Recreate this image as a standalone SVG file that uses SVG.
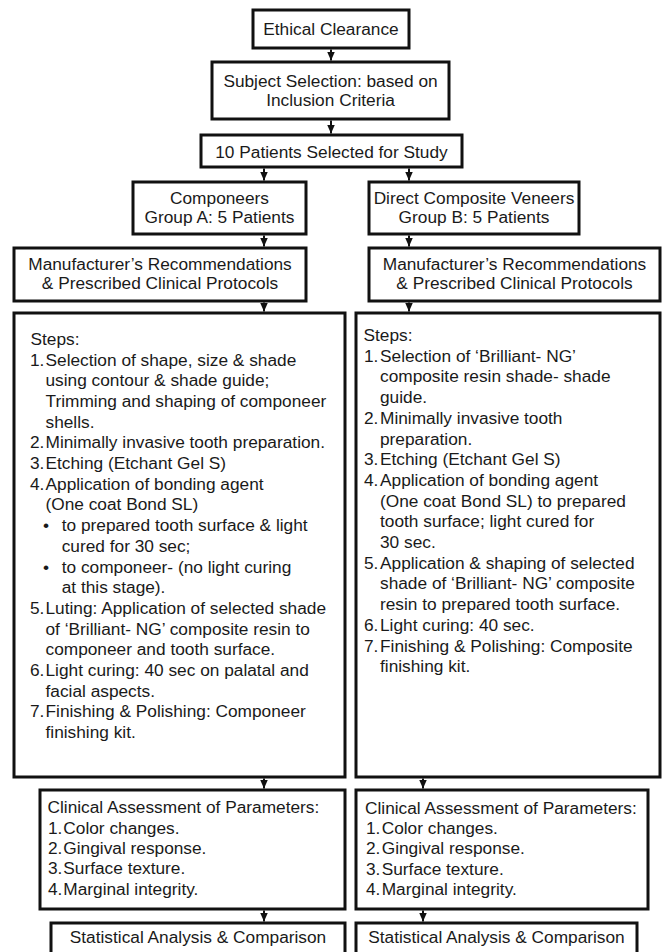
<svg xmlns="http://www.w3.org/2000/svg" width="662" height="952" viewBox="0 0 662 952">
<style>
  .box { fill: #fff; stroke: #111; stroke-width: 3; }
  .t { font-family: "Liberation Sans", Arial, sans-serif; font-size: 17.3px; fill: #1a1a1a; }
  .c { text-anchor: middle; }
  .conn { stroke: #111; stroke-width: 2; fill: none; marker-end: url(#ah); }
</style>
<defs>
  <marker id="ah" viewBox="0 0 9 8" refX="9" refY="4" markerWidth="9" markerHeight="8" markerUnits="userSpaceOnUse" orient="auto">
    <path d="M0,0 L9,4 L0,8 z" fill="#111"/>
  </marker>
</defs>
<rect width="662" height="952" fill="#fff"/>

<g id="connectors">
  <line class="conn" x1="331" y1="49.5" x2="331" y2="60.5"/>
  <line class="conn" x1="331" y1="120.5" x2="331" y2="133.5"/>
  <line class="conn" x1="264" y1="168.5" x2="264" y2="180.5"/>
  <line class="conn" x1="409" y1="168.5" x2="409" y2="180.5"/>
  <line class="conn" x1="264" y1="235.5" x2="264" y2="246.5"/>
  <line class="conn" x1="409" y1="235.5" x2="409" y2="246.5"/>
  <line class="conn" x1="264" y1="302.5" x2="264" y2="311.5"/>
  <line class="conn" x1="409" y1="302.5" x2="409" y2="311.5"/>
  <line class="conn" x1="264" y1="778.5" x2="264" y2="788.5"/>
  <line class="conn" x1="423" y1="778.5" x2="423" y2="788.5"/>
  <line class="conn" x1="264" y1="910.5" x2="264" y2="921.5"/>
  <line class="conn" x1="423" y1="910.5" x2="423" y2="921.5"/>
</g>

<g id="ethical">
  <rect class="box" x="253" y="10" width="156" height="38"/>
  <text class="t c" x="331" y="35">Ethical Clearance</text>
</g>

<g id="subject">
  <rect class="box" x="212" y="62" width="237" height="57"/>
  <text class="t c" x="330.5" y="87.3">Subject Selection: based on</text>
  <text class="t c" x="330.5" y="106">Inclusion Criteria</text>
</g>

<g id="patients">
  <rect class="box" x="201" y="135" width="261" height="32"/>
  <text class="t c" x="331.5" y="157.5">10 Patients Selected for Study</text>
</g>

<g id="groupA">
  <rect class="box" x="133" y="182" width="173" height="52"/>
  <text class="t c" x="219.5" y="203.5">Componeers</text>
  <text class="t c" x="219.5" y="223.3">Group A: 5 Patients</text>
</g>

<g id="groupB">
  <rect class="box" x="369" y="182" width="210" height="52"/>
  <text class="t c" x="474" y="203.5">Direct Composite Veneers</text>
  <text class="t c" x="474" y="223.3">Group B: 5 Patients</text>
</g>

<g id="manufA">
  <rect class="box" x="14" y="248" width="292" height="53"/>
  <text class="t c" x="160" y="270">Manufacturer’s Recommendations</text>
  <text class="t c" x="160" y="289.3">&amp; Prescribed Clinical Protocols</text>
</g>

<g id="manufB">
  <rect class="box" x="369" y="248" width="291" height="53"/>
  <text class="t c" x="514.5" y="270">Manufacturer’s Recommendations</text>
  <text class="t c" x="514.5" y="289.3">&amp; Prescribed Clinical Protocols</text>
</g>

<g id="stepsA">
  <rect class="box" x="14" y="313" width="331" height="464"/>
  <text class="t" x="30.5" y="344.8">Steps:</text>
  <text class="t" x="30" y="365.5">1.</text><text class="t" x="45.5" y="365.5">Selection of shape, size &amp; shade</text>
  <text class="t" x="45.5" y="386.2">using contour &amp; shade guide;</text>
  <text class="t" x="45.5" y="406.9">Trimming and shaping of componeer</text>
  <text class="t" x="45.5" y="427.6">shells.</text>
  <text class="t" x="30" y="448.3">2.</text><text class="t" x="45.5" y="448.3">Minimally invasive tooth preparation.</text>
  <text class="t" x="30" y="469">3.</text><text class="t" x="45.5" y="469">Etching (Etchant Gel S)</text>
  <text class="t" x="30" y="489.7">4.</text><text class="t" x="45.5" y="489.7">Application of bonding agent</text>
  <text class="t" x="45.5" y="510.4">(One coat Bond SL)</text>
  <text class="t" x="43" y="531.1">•</text><text class="t" x="61.7" y="531.1">to prepared tooth surface &amp; light</text>
  <text class="t" x="61.7" y="551.8">cured for 30 sec;</text>
  <text class="t" x="43" y="572.5">•</text><text class="t" x="61.7" y="572.5">to componeer- (no light curing</text>
  <text class="t" x="61.7" y="593.2">at this stage).</text>
  <text class="t" x="30" y="613.9">5.</text><text class="t" x="45.5" y="613.9">Luting: Application of selected shade</text>
  <text class="t" x="45.5" y="634.6">of ‘Brilliant- NG’ composite resin to</text>
  <text class="t" x="45.5" y="655.3">componeer and tooth surface.</text>
  <text class="t" x="30" y="676">6.</text><text class="t" x="45.5" y="676">Light curing: 40 sec on palatal and</text>
  <text class="t" x="45.5" y="696.7">facial aspects.</text>
  <text class="t" x="30" y="717.4">7.</text><text class="t" x="45.5" y="717.4">Finishing &amp; Polishing: Componeer</text>
  <text class="t" x="45.5" y="738.1">finishing kit.</text>
</g>

<g id="stepsB">
  <rect class="box" x="356" y="313" width="304" height="464"/>
  <text class="t" x="363.5" y="341">Steps:</text>
  <text class="t" x="364" y="361.7">1.</text><text class="t" x="380" y="361.7">Selection of ‘Brilliant- NG’</text>
  <text class="t" x="380" y="382.4">composite resin shade- shade</text>
  <text class="t" x="380" y="403.1">guide.</text>
  <text class="t" x="364" y="423.8">2.</text><text class="t" x="380" y="423.8">Minimally invasive tooth</text>
  <text class="t" x="380" y="444.5">preparation.</text>
  <text class="t" x="364" y="465.2">3.</text><text class="t" x="380" y="465.2">Etching (Etchant Gel S)</text>
  <text class="t" x="364" y="485.9">4.</text><text class="t" x="380" y="485.9">Application of bonding agent</text>
  <text class="t" x="380" y="506.6">(One coat Bond SL) to prepared</text>
  <text class="t" x="380" y="527.3">tooth surface; light cured for</text>
  <text class="t" x="380" y="548">30 sec.</text>
  <text class="t" x="364" y="568.7">5.</text><text class="t" x="380" y="568.7">Application &amp; shaping of selected</text>
  <text class="t" x="380" y="589.4">shade of ‘Brilliant- NG’ composite</text>
  <text class="t" x="380" y="610.1">resin to prepared tooth surface.</text>
  <text class="t" x="364" y="630.8">6.</text><text class="t" x="380" y="630.8">Light curing: 40 sec.</text>
  <text class="t" x="364" y="651.5">7.</text><text class="t" x="380" y="651.5">Finishing &amp; Polishing: Composite</text>
  <text class="t" x="380" y="672.2">finishing kit.</text>
</g>

<g id="clinicalA">
  <rect class="box" x="40" y="790" width="305" height="119"/>
  <text class="t" x="47.5" y="813.3">Clinical Assessment of Parameters:</text>
  <text class="t" x="48" y="833.6">1.</text><text class="t" x="63.3" y="833.6">Color changes.</text>
  <text class="t" x="48" y="853.9">2.</text><text class="t" x="63.3" y="853.9">Gingival response.</text>
  <text class="t" x="48" y="874.2">3.</text><text class="t" x="63.3" y="874.2">Surface texture.</text>
  <text class="t" x="48" y="894.5">4.</text><text class="t" x="63.3" y="894.5">Marginal integrity.</text>
</g>

<g id="clinicalB">
  <rect class="box" x="356" y="790" width="292" height="119"/>
  <text class="t" x="365" y="813.8">Clinical Assessment of Parameters:</text>
  <text class="t" x="366" y="834.1">1.</text><text class="t" x="381.7" y="834.1">Color changes.</text>
  <text class="t" x="366" y="854.4">2.</text><text class="t" x="381.7" y="854.4">Gingival response.</text>
  <text class="t" x="366" y="874.7">3.</text><text class="t" x="381.7" y="874.7">Surface texture.</text>
  <text class="t" x="366" y="895">4.</text><text class="t" x="381.7" y="895">Marginal integrity.</text>
</g>

<g id="statsA">
  <rect class="box" x="51" y="923" width="294" height="60"/>
  <text class="t c" x="198" y="943.3">Statistical Analysis &amp; Comparison</text>
</g>

<g id="statsB">
  <rect class="box" x="356" y="923" width="281" height="60"/>
  <text class="t c" x="496.5" y="943.3">Statistical Analysis &amp; Comparison</text>
</g>
</svg>
